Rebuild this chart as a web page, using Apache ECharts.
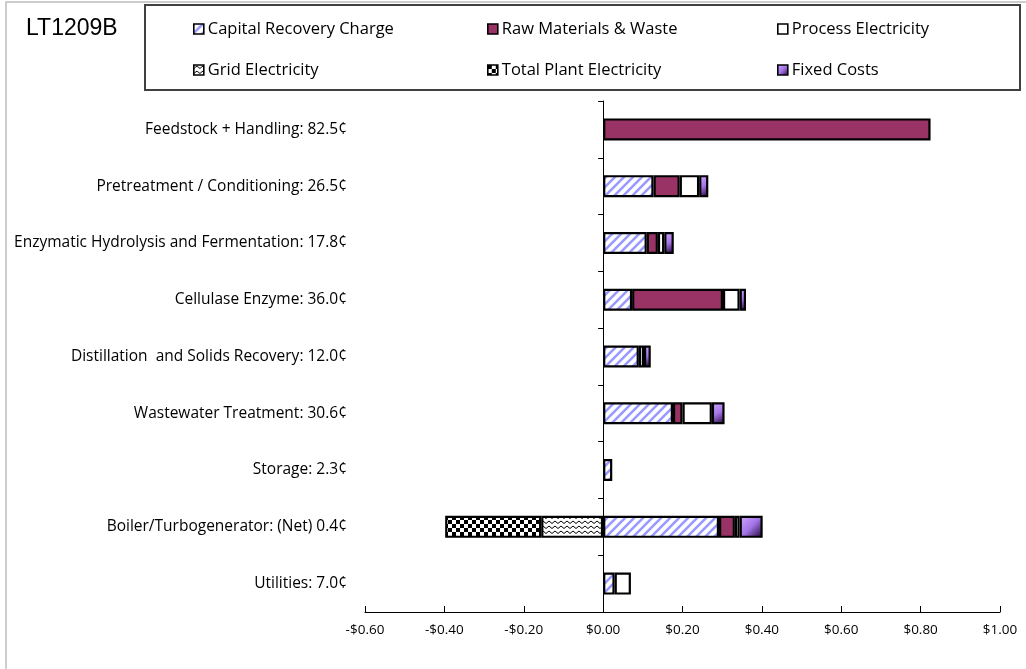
<!DOCTYPE html>
<html>
<head>
<meta charset="utf-8">
<script src="https://cdn.jsdelivr.net/npm/echarts@6/dist/echarts.min.js"></script>
<style>
  html, body { margin: 0; padding: 0; background: #fff; }
  #chart { width: 1026px; height: 669px; }
</style>
</head>
<body>
<div id="chart"></div>
<script>
// Cost contribution by process area ($/gal), stacked by cost type
const categoryLabels = [
  'Feedstock + Handling: 82.5¢',
  'Pretreatment / Conditioning: 26.5¢',
  'Enzymatic Hydrolysis and Fermentation: 17.8¢',
  'Cellulase Enzyme: 36.0¢',
  'Distillation  and Solids Recovery: 12.0¢',
  'Wastewater Treatment: 30.6¢',
  'Storage: 2.3¢',
  'Boiler/Turbogenerator: (Net) 0.4¢',
  'Utilities: 7.0¢'
];
const seriesNames = [
  'Capital Recovery Charge', 'Raw Materials & Waste', 'Process Electricity',
  'Grid Electricity', 'Total Plant Electricity', 'Fixed Costs'
];
const capitalRecovery   = [null, 0.127, 0.110, 0.073, 0.090, 0.176, 0.023, 0.292, 0.029];
const rawMaterials      = [0.825, 0.066, 0.028, 0.229, null, 0.024, null, 0.040, null];
const processElectric   = [null, 0.049, 0.016, 0.042, 0.013, 0.074, null, 0.012, 0.041];
const gridElectric      = [null, null, null, null, null, null, null, -0.156, null];
const totalPlantElectric= [null, null, null, null, null, null, null, -0.242, null];
const fixedCosts        = [null, 0.023, 0.024, 0.016, 0.017, 0.032, null, 0.058, null];
const xTicks = [-0.6, -0.4, -0.2, 0, 0.2, 0.4, 0.6, 0.8, 1.0];

// Fill patterns
function makeTile(w, h, draw) {
  const c = document.createElement('canvas');
  c.width = w; c.height = h;
  const ctx = c.getContext('2d');
  ctx.fillStyle = '#ffffff';
  ctx.fillRect(0, 0, w, h);
  draw(ctx);
  return { image: c, repeat: 'repeat' };
}
const hatchFill = makeTile(9, 9, ctx => {
  ctx.strokeStyle = '#9999ff';
  ctx.lineWidth = 2.6;
  ctx.beginPath();
  ctx.moveTo(-2, 11); ctx.lineTo(11, -2);
  ctx.moveTo(-2, 2); ctx.lineTo(2, -2);
  ctx.moveTo(7, 11); ctx.lineTo(11, 7);
  ctx.stroke();
});
const waveFill = makeTile(6, 5, ctx => {
  ctx.strokeStyle = '#000000';
  ctx.lineWidth = 1;
  ctx.beginPath();
  ctx.moveTo(0, 3.5); ctx.lineTo(3, 1); ctx.lineTo(6, 3.5);
  ctx.stroke();
});
const checkerFill = makeTile(8, 8, ctx => {
  ctx.fillStyle = '#000000';
  ctx.fillRect(0, 0, 4, 4);
  ctx.fillRect(4, 4, 4, 4);
});
const fixedFill = new echarts.graphic.LinearGradient(0, 0, 1, 1, [
  { offset: 0, color: '#d2aaff' },
  { offset: 0.5, color: '#a274e6' },
  { offset: 1, color: '#1e0030' }
]);

const fills = [hatchFill, '#993366', '#ffffff', waveFill, checkerFill, fixedFill];
const values = [capitalRecovery, rawMaterials, processElectric, gridElectric, totalPlantElectric, fixedCosts];

const series = seriesNames.map((name, i) => ({
  name: name,
  type: 'bar',
  stack: 'cost',
  yAxisIndex: 0,
  barWidth: 22,
  itemStyle: { color: fills[i], borderColor: '#000', borderWidth: 2.2 },
  emphasis: { disabled: true },
  data: values[i]
}));

// Legend laid out as a 3 x 2 grid inside its frame
const legendCols = [188, 482, 772];
const legendRows = [14, 55];
const legends = seriesNames.map((name, i) => ({
  left: legendCols[i % 3],
  top: legendRows[Math.floor(i / 3)],
  itemWidth: 10,
  itemHeight: 10,
  icon: 'rect',
  selectedMode: false,
  itemStyle: { borderWidth: 1.6, borderColor: '#000' },
  textStyle: { fontFamily: 'Open Sans', fontSize: 16.5, lineHeight: 20, color: '#000', padding: [0, 0, 0, -1] },
  data: [name]
}));

const chart = echarts.init(document.getElementById('chart'), null, { renderer: 'canvas' });
chart.setOption({
  animation: false,
  backgroundColor: '#fff',
  title: {
    text: 'LT1209B', left: 21, top: 12,
    textStyle: { fontFamily: 'Liberation Sans', fontSize: 23, fontWeight: 'normal', color: '#000' }
  },
  graphic: [
    { type: 'rect', z: -1, shape: { x: 6, y: 2, width: 1040, height: 700 },
      style: { fill: null, stroke: '#bdbdbd', lineWidth: 1.5 } },
    { type: 'rect', shape: { x: 145, y: 5, width: 875, height: 85 },
      style: { fill: null, stroke: '#404040', lineWidth: 2 } }
  ],
  legend: legends,
  grid: { left: 365, right: 26, top: 101, bottom: 57, containLabel: false },
  xAxis: {
    type: 'value',
    min: xTicks[0], max: xTicks[xTicks.length - 1], interval: 0.2,
    axisLine: { show: true, onZero: false, lineStyle: { color: '#000', width: 1 } },
    axisTick: { show: true, inside: true, length: 6, lineStyle: { color: '#000' } },
    splitLine: { show: false },
    axisLabel: {
      margin: 11, color: '#000', fontFamily: 'Open Sans', fontSize: 13.5,
      formatter: v => (v < 0 ? '-' : '') + '$' + Math.abs(v).toFixed(2)
    }
  },
  yAxis: [
    {
      type: 'category', data: categoryLabels, inverse: true,
      axisLine: { show: true, onZero: true, lineStyle: { color: '#000', width: 1 } },
      axisTick: { show: true, length: 5, lineStyle: { color: '#000' } },
      axisLabel: { show: false },
      splitLine: { show: false }
    },
    {
      type: 'category', data: categoryLabels, inverse: true, position: 'left',
      axisLine: { show: false, onZero: false },
      axisTick: { show: false },
      axisLabel: { margin: 18, color: '#000', fontFamily: 'Open Sans', fontSize: 15.5 },
      splitLine: { show: false }
    }
  ],
  series: series
});
</script>
</body>
</html>
